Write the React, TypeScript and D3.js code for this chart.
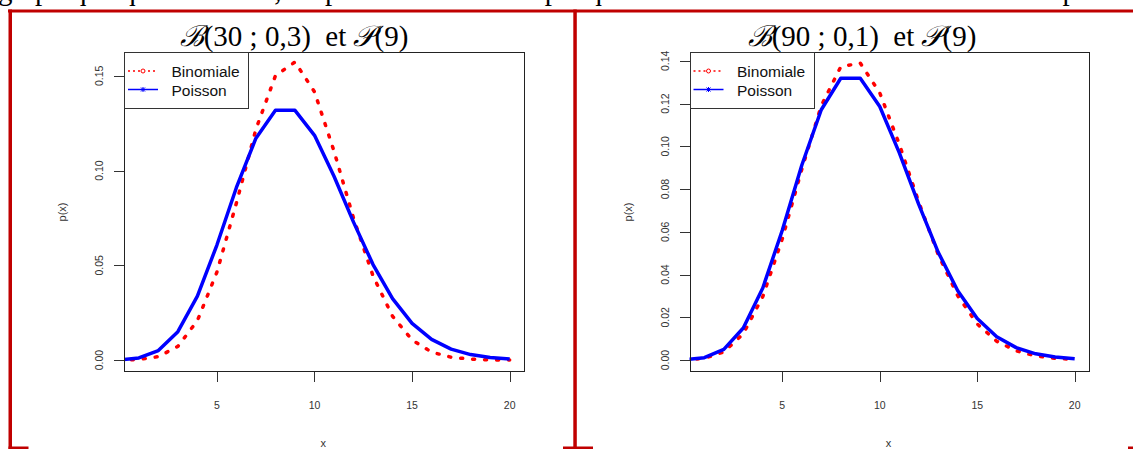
import * as d3 from 'd3'

const W = 1133
const H = 449

// k = 0..20
const ks = [0, 1, 2, 3, 4, 5, 6, 7, 8, 9, 10, 11, 12, 13, 14, 15, 16, 17, 18, 19, 20]

// B(30 ; 0,3)
const binom30 = [
    0.00002, 0.0003, 0.0018, 0.0072, 0.0208, 0.0464, 0.0829, 0.1219, 0.1501, 0.1573,
    0.1416, 0.1103, 0.0749, 0.0444, 0.0231, 0.0106, 0.0042, 0.0015, 0.0005, 0.0001, 0.00003
]

// B(90 ; 0,1)
const binom90 = [
    0.0001, 0.0008, 0.0038, 0.0123, 0.0297, 0.0567, 0.0892, 0.119, 0.1372, 0.1389,
    0.125, 0.101, 0.0739, 0.0493, 0.0301, 0.0169, 0.0088, 0.0043, 0.0019, 0.0008, 0.0003
]

// P(9)
const poisson9 = [
    0.0001, 0.0011, 0.005, 0.015, 0.0337, 0.0607, 0.0911, 0.1171, 0.1318, 0.1318,
    0.1186, 0.097, 0.0728, 0.0504, 0.0324, 0.0194, 0.0109, 0.0058, 0.0029, 0.0014, 0.0006
]

const xTicks = [5, 10, 15, 20]
const yTicksLeft = [0, 0.05, 0.1, 0.15]
const yTicksRight = [0, 0.02, 0.04, 0.06, 0.08, 0.1, 0.12, 0.14]
const legendLabels = ['Binomiale', 'Poisson']

const topLine =
    'graphique que ceci vaut, on peut se rendre compte que les deux lois se ressemblent beaucoup.'

const panels = [
    {
        id: 'left',
        n: '30',
        p: '0,3',
        binom: binom30,
        yTicks: yTicksLeft,
        yDomain: [-0.0063, 0.1626],
        xRange: [124, 524.5],
        titleX: 294
    },
    {
        id: 'right',
        n: '90',
        p: '0,1',
        binom: binom90,
        yTicks: yTicksRight,
        yDomain: [-0.0056, 0.1441],
        xRange: [689.5, 1089.5],
        titleX: 862
    }
]

const top = 52
const bottom = 372
const axisColor = '#333'
const sans = '"Liberation Sans", Arial, sans-serif'
const serif = '"Liberation Serif", "Times New Roman", serif'
const frameRed = '#c00000'

const Panel = ({ cfg }) => {
    const x = d3.scaleLinear().domain([0.24, 20.76]).range(cfg.xRange)
    const y = d3.scaleLinear().domain(cfg.yDomain).range([bottom, top])
    const [x0, x1] = cfg.xRange
    const line = d3
        .line()
        .x((d) => x(d[0]))
        .y((d) => y(d[1]))
    const binomPts = ks.map((k, i) => [k, cfg.binom[i]])
    const poisPts = ks.map((k, i) => [k, poisson9[i]])
    const cx = (x0 + x1) / 2
    const lx = x0
    const lw = 124
    const fmt = d3.format('.2f')

    return (
        <g>
            <clipPath id={`clip-${cfg.id}`}>
                <rect x={x0} y={top} width={x1 - x0} height={bottom - top} />
            </clipPath>

            {/* title */}
            <text
                x={cfg.titleX}
                y={46}
                textAnchor="middle"
                fontFamily={serif}
                fontSize={29}
                fill="#000"
            >
                <tspan fontFamily='"DejaVu Serif", serif' fontStyle="italic">ℬ</tspan>
                <tspan>{`(${cfg.n} ; ${cfg.p})\u00a0\u00a0et `}</tspan>
                <tspan fontFamily='"DejaVu Serif", serif' fontStyle="italic">𝒫</tspan>
                <tspan>(9)</tspan>
            </text>

            {/* curves */}
            <g clipPath={`url(#clip-${cfg.id})`}>
                <path
                    d={line(binomPts)}
                    fill="none"
                    stroke="#ff0000"
                    strokeWidth={3.5}
                    strokeDasharray="2 10"
                    strokeLinecap="round"
                />
                <path
                    d={line(poisPts)}
                    fill="none"
                    stroke="#0000ff"
                    strokeWidth={3.5}
                    strokeLinejoin="round"
                />
            </g>

            {/* box */}
            <rect
                x={x0 + 0.5}
                y={top + 0.5}
                width={x1 - x0 - 1}
                height={bottom - top - 1}
                fill="none"
                stroke="#222"
                strokeWidth={1}
                shapeRendering="crispEdges"
            />

            {/* x axis */}
            {xTicks.map((t) => (
                <g key={t}>
                    <line
                        x1={Math.round(x(t)) + 0.5}
                        x2={Math.round(x(t)) + 0.5}
                        y1={bottom}
                        y2={bottom + 10}
                        stroke={axisColor}
                        shapeRendering="crispEdges"
                    />
                    <text
                        x={x(t)}
                        y={409}
                        textAnchor="middle"
                        fontFamily={sans}
                        fontSize={10.5}
                        fill={axisColor}
                    >
                        {t}
                    </text>
                </g>
            ))}

            {/* y axis */}
            {cfg.yTicks.map((t) => (
                <g key={t}>
                    <line
                        x1={x0 - 10}
                        x2={x0}
                        y1={Math.round(y(t)) + 0.5}
                        y2={Math.round(y(t)) + 0.5}
                        stroke={axisColor}
                        shapeRendering="crispEdges"
                    />
                    <text
                        transform={`translate(${x0 - 21},${y(t)}) rotate(-90)`}
                        textAnchor="middle"
                        fontFamily={sans}
                        fontSize={10.5}
                        fill={axisColor}
                    >
                        {fmt(t)}
                    </text>
                </g>
            ))}

            <text
                transform={`translate(${x0 - 58},${(top + bottom) / 2}) rotate(-90)`}
                textAnchor="middle"
                fontFamily={sans}
                fontSize={11}
                fill={axisColor}
            >
                p(x)
            </text>
            <text
                x={cx - 1}
                y={447}
                textAnchor="middle"
                fontFamily={sans}
                fontSize={11}
                fill={axisColor}
            >
                x
            </text>

            {/* legend */}
            <rect
                x={lx + 0.5}
                y={top + 0.5}
                width={lw}
                height={56}
                fill="#fff"
                stroke="#333"
                shapeRendering="crispEdges"
            />
            <line
                x1={lx + 4}
                x2={lx + 34}
                y1={71}
                y2={71}
                stroke="#ff0000"
                strokeWidth={1.5}
                strokeDasharray="2 3"
            />
            <circle cx={lx + 19} cy={71} r={2} fill="#fff" stroke="#ff0000" strokeWidth={1} />
            <line x1={lx + 4} x2={lx + 34} y1={89.5} y2={89.5} stroke="#0000ff" strokeWidth={1.5} />
            <g stroke="#0000ff" strokeWidth={1}>
                <line x1={lx + 19} x2={lx + 19} y1={87} y2={92} />
                <line x1={lx + 17} x2={lx + 21} y1={87.5} y2={91.5} />
                <line x1={lx + 17} x2={lx + 21} y1={91.5} y2={87.5} />
            </g>
            {legendLabels.map((l, i) => (
                <text
                    key={l}
                    x={lx + 47.5}
                    y={i === 0 ? 76.7 : 96}
                    fontFamily={sans}
                    fontSize={15.5}
                    fill="#111"
                >
                    {l}
                </text>
            ))}
        </g>
    )
}

export default function App() {
    return (
        <div style={{ position: 'absolute', left: 0, top: 0, width: W, height: H, background: '#fff' }}>
            <svg width={W} height={H} style={{ display: 'block' }}>
                <rect width={W} height={H} fill="#fff" />
                {/* last line of the page text above, cut by the picture's top edge */}
                <text x={-2} y={0} fontFamily={serif} fontSize={29} fill="#000">
                    {topLine}
                </text>

                {/* red frame */}
                <rect x={8} y={9.5} width={W - 8} height={3} fill={frameRed} />
                <rect x={8.5} y={9.5} width={3.5} height={H - 9.5} fill={frameRed} />
                <rect x={573.3} y={9.5} width={3.5} height={H - 9.5} fill={frameRed} />
                <rect x={8.5} y={446.5} width={20} height={3} fill={frameRed} />
                <rect x={563} y={446.5} width={30} height={3} fill={frameRed} />
                <rect x={1128} y={446.5} width={5} height={3} fill={frameRed} />

                {panels.map((p) => (
                    <Panel key={p.id} cfg={p} />
                ))}
            </svg>
        </div>
    )
}
